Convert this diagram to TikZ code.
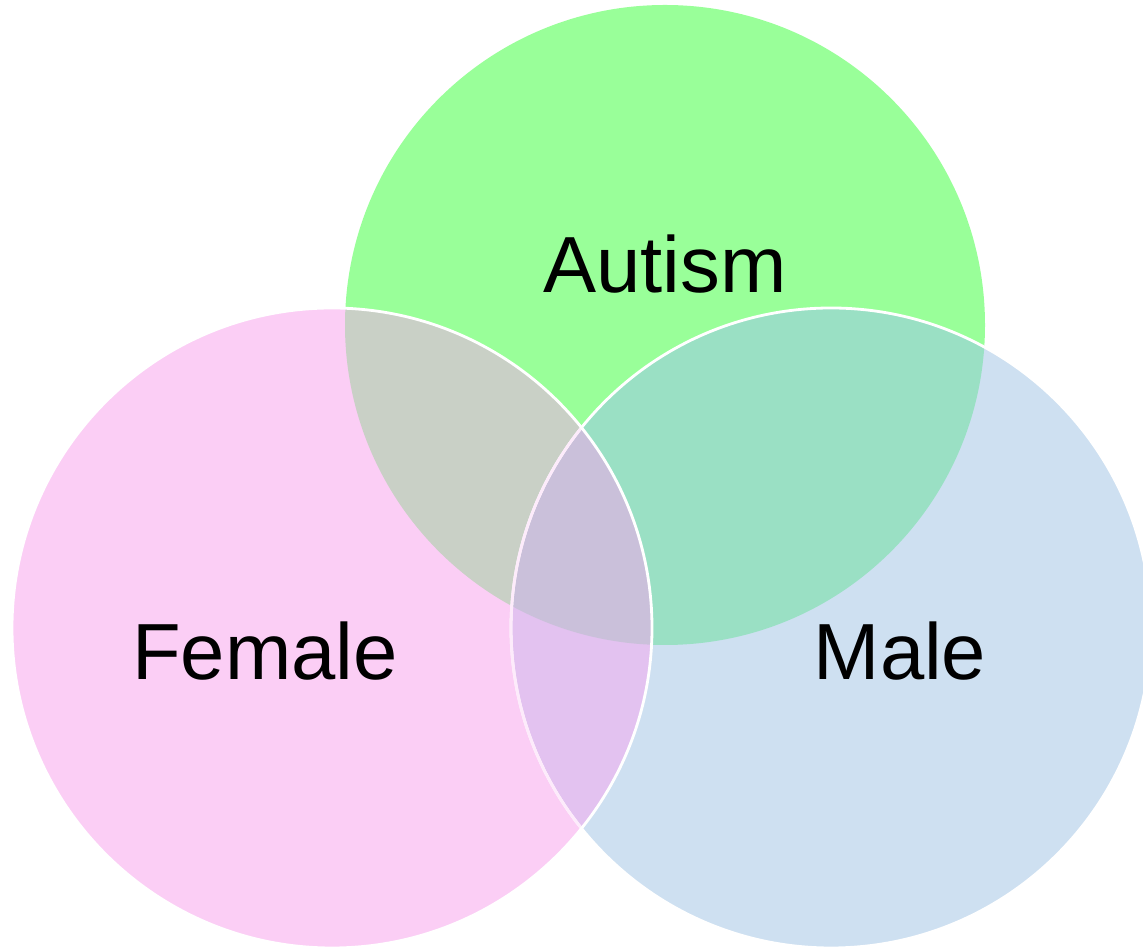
\documentclass[tikz,border=0pt]{standalone}
\usepackage{fontspec}
\setmainfont{Liberation Sans}

\definecolor{autismgreen}{RGB}{153,255,153}
\definecolor{femalepink}{RGB}{251,206,245}
\definecolor{maleblue}{RGB}{206,224,241}
\definecolor{fagray}{RGB}{201,208,198}
\definecolor{amteal}{RGB}{154,224,196}
\definecolor{fmlilac}{RGB}{227,194,240}
\definecolor{allmauve}{RGB}{202,192,218}

\tikzset{
  setlabel/.style={anchor=base, font=\fontsize{45.3}{54}\selectfont},
  rim/.style={draw=white, line width=1.6pt}
}

\begin{document}
\begin{tikzpicture}

  \useasboundingbox (0,0) rectangle (22.86,18.94);

  \coordinate (autism) at (13.3,12.44);
  \coordinate (female) at (6.64,6.38);
  \coordinate (male) at (16.62,6.38);

  % plain discs
  \fill[autismgreen] (autism) circle (6.4);
  \fill[femalepink] (female) circle (6.4);
  \fill[maleblue] (male) circle (6.4);

  % overlaps
  \begin{scope}
    \clip (autism) circle (6.4);
    \fill[fagray] (female) circle (6.4);
    \fill[amteal] (male) circle (6.4);
  \end{scope}
  \begin{scope}
    \clip (female) circle (6.4);
    \fill[fmlilac] (male) circle (6.4);
    \clip (autism) circle (6.4);
    \fill[allmauve] (male) circle (6.4);
  \end{scope}

  % rims
  \draw[rim] (male) circle (6.4);
  \begin{scope}
    \clip (female) circle (6.4);
    \draw[rim, draw=femalepink!40!white] (male) circle (6.4);
  \end{scope}
  \draw[rim] (female) circle (6.4);

  \node[setlabel] (autismlabel) at (13.3,13.08) {Autism};
  \node[setlabel] (femalelabel) at (5.3,5.34) {Female};
  \node[setlabel] (malelabel) at (18.0,5.34) {Male};

\end{tikzpicture}
\end{document}
